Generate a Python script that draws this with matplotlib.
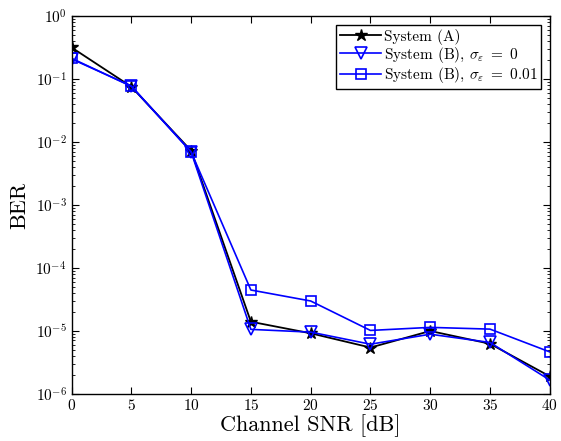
import matplotlib
matplotlib.use("Agg")
import matplotlib.pyplot as plt
from matplotlib.ticker import FixedLocator, NullFormatter

plt.rcParams["font.family"] = ["cmr10", "DejaVu Serif"]
plt.rcParams["mathtext.fontset"] = "cm"
plt.rcParams["axes.formatter.use_mathtext"] = True
plt.rcParams["axes.unicode_minus"] = False

snr_db = [0, 5, 10, 15, 20, 25, 30, 35, 40]
ber_sys_a = [0.32, 0.076, 0.0073, 1.39e-5, 9.1e-6, 5.4e-6, 9.9e-6, 6.2e-6, 1.88e-6]
ber_sys_b0 = [0.21, 0.078, 0.0070, 1.05e-5, 9.5e-6, 6.1e-6, 8.8e-6, 6.5e-6, 1.64e-6]
ber_sys_b001 = [0.215, 0.077, 0.0070, 4.44e-5, 2.97e-5, 1.01e-5, 1.13e-5, 1.06e-5, 4.6e-6]
decades = [1e-6, 1e-5, 1e-4, 1e-3, 1e-2, 1e-1, 1e0]

labels = ["System (A)",
          r"System (B), $\sigma_\varepsilon\ =\ 0$",
          r"System (B), $\sigma_\varepsilon\ =\ 0.01$"]

fig = plt.figure(figsize=(5.61, 4.41), dpi=100)
ax = fig.add_axes([0.1275, 0.1075, 0.8525, 0.8555])

ax.semilogy(snr_db, ber_sys_a, color="black", lw=1.3, marker="*",
            ms=9, mfc="black", mec="black", label=labels[0])
ax.semilogy(snr_db, ber_sys_b0, color="blue", lw=1.2, marker="v",
            ms=8, mfc="none", mec="blue", mew=1.2, label=labels[1])
ax.semilogy(snr_db, ber_sys_b001, color="blue", lw=1.2, marker="s",
            ms=7, mfc="none", mec="blue", mew=1.2, label=labels[2])

ax.set_xlim(0, 40)
ax.set_ylim(1e-6, 1)
ax.set_xticks(snr_db)
ax.yaxis.set_major_locator(FixedLocator(decades))
minor = [d * k for d in decades[:-1] for k in range(2, 10)]
ax.yaxis.set_minor_locator(FixedLocator(minor))
ax.yaxis.set_minor_formatter(NullFormatter())

ax.tick_params(which="both", direction="in", top=True, right=True, labelsize=11)
ax.tick_params(which="major", length=5, width=0.8)
ax.tick_params(which="minor", length=2.5, width=0.6)
for s in ax.spines.values():
    s.set_linewidth(1.0)

ax.set_xlabel("Channel SNR [dB]", fontsize=16)
ax.xaxis.set_label_coords(0.5, -0.056)
ax.set_ylabel("BER", fontsize=16)
ax.yaxis.set_label_coords(-0.089, 0.5)

leg = ax.legend(loc="upper right", fontsize=11, fancybox=False, framealpha=1,
                edgecolor="black", borderpad=0.25, labelspacing=0.02,
                handlelength=2.7, handletextpad=0.15, borderaxespad=0.55)
leg.get_frame().set_linewidth(1.0)

fig.savefig("out.png", dpi=100)
